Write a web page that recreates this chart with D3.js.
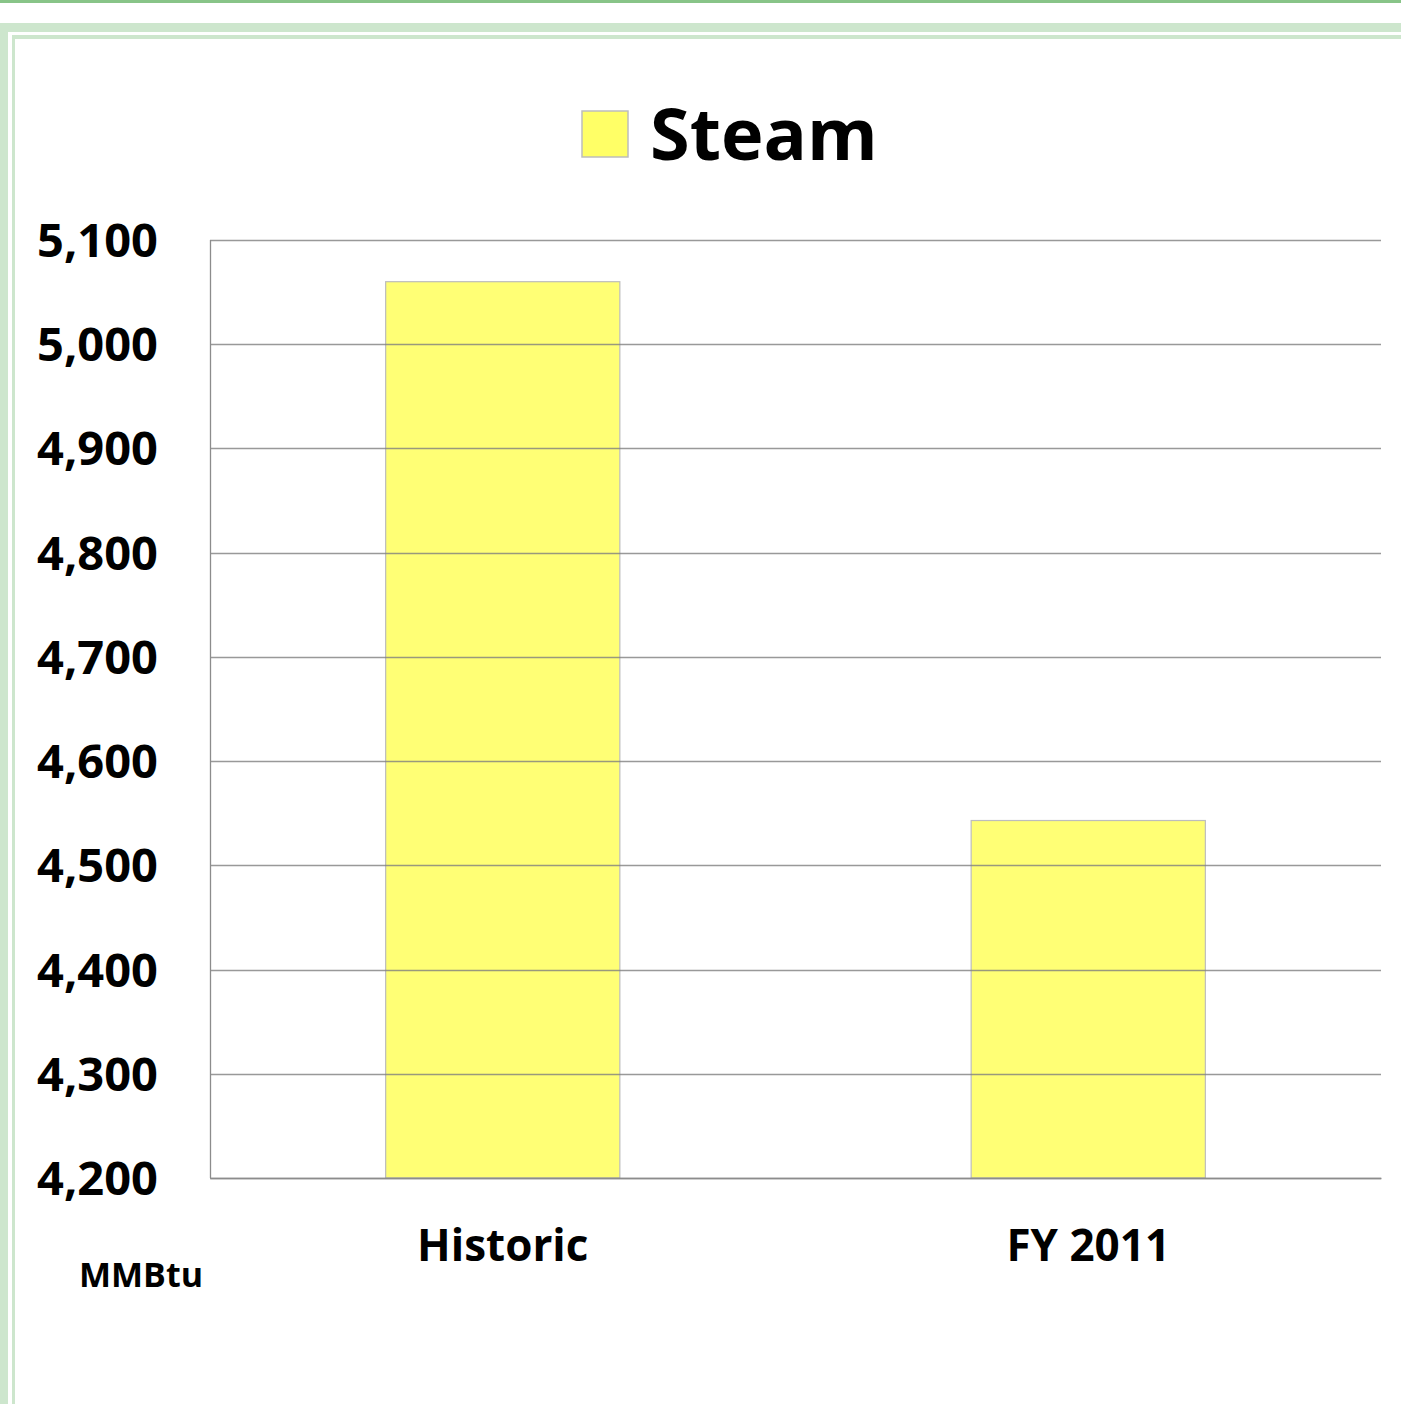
<!DOCTYPE html>
<html>
<head>
<meta charset="utf-8">
<script src="https://cdn.jsdelivr.net/npm/d3@7"></script>
<style>
  body { margin: 0; background: #fff; }
  svg text { font-family: "Open Sans", "Noto Sans", sans-serif; font-weight: bold; fill: #000; }
</style>
</head>
<body>
<div id="chart"></div>
<script>
// Data
let categories = ["Historic", "FY 2011"];
let steam = [5060, 4543];
let yTicks = [4200, 4300, 4400, 4500, 4600, 4700, 4800, 4900, 5000, 5100];
let seriesName = "Steam";
let unitLabel = "MMBtu";

let W = 1401, H = 1404;
let margin = { top: 240, right: 20, bottom: 226, left: 210 };
let width = W - margin.left - margin.right;
let height = H - margin.top - margin.bottom;

let svg = d3.select("#chart")
  .append("svg")
  .attr("width", W)
  .attr("height", H);

// page frame (green bands)
svg.append("rect").attr("x", 0).attr("y", 0).attr("width", W).attr("height", 3).attr("fill", "#88c488");
svg.append("rect").attr("x", 0).attr("y", 23).attr("width", W).attr("height", 9).attr("fill", "#cde6cd");
svg.append("rect").attr("x", 0).attr("y", 23).attr("width", 8).attr("height", H - 23).attr("fill", "#cde6cd");
svg.append("rect").attr("x", 12).attr("y", 35).attr("width", W - 12).attr("height", 4).attr("fill", "#cde6cd");
svg.append("rect").attr("x", 12).attr("y", 35).attr("width", 3).attr("height", H - 35).attr("fill", "#cde6cd");

let g = svg.append("g")
  .attr("transform", "translate(" + margin.left + "," + margin.top + ")");

// Scales
let x = d3.scaleBand()
  .domain(categories)
  .range([0, width])
  .paddingInner(0.6)
  .paddingOuter(0.3);

let y = d3.scaleLinear()
  .domain([4200, 5100])
  .range([height, 0]);

// bars
g.append("g")
  .selectAll("rect")
  .data(steam)
  .join("rect")
    .attr("x", (d, i) => x(categories[i]))
    .attr("y", d => y(d))
    .attr("width", x.bandwidth())
    .attr("height", d => height - y(d))
    .attr("fill", "#ffff66")
    .attr("fill-opacity", 0.9)
    .attr("stroke", "#bdbdbd")
    .attr("stroke-width", 1.2);

// gridlines on top, faint so they show through the bars
g.append("g")
  .attr("class", "grid")
  .selectAll("line")
  .data(yTicks)
  .join("line")
    .attr("x1", 0)
    .attr("x2", width)
    .attr("y1", d => Math.round(y(d)) + 0.5)
    .attr("y2", d => Math.round(y(d)) + 0.5)
    .attr("stroke", "#808080")
    .attr("stroke-opacity", 0.8)
    .attr("stroke-width", 1.4);

// left axis line
g.append("line")
  .attr("x1", 0.5).attr("x2", 0.5)
  .attr("y1", 0).attr("y2", height)
  .attr("stroke", "#8c8c8c")
  .attr("stroke-width", 1.3);

// y axis labels
let yAxis = d3.axisLeft(y)
  .tickValues(yTicks)
  .tickSize(0)
  .tickPadding(52)
  .tickFormat(d3.format(","));

let yAxisEl = g.append("g").call(yAxis);
yAxisEl.select(".domain").remove();
yAxisEl.selectAll("text")
  .attr("font-size", 47)
  .style("font-family", "'Open Sans', sans-serif")
  .attr("dy", "0.35em");

// x axis labels
let xAxis = d3.axisBottom(x).tickSize(0).tickPadding(52);
let xAxisEl = g.append("g")
  .attr("transform", "translate(0," + height + ")")
  .call(xAxis);
xAxisEl.select(".domain").attr("stroke", "#8c8c8c").attr("stroke-width", 1.3);
xAxisEl.selectAll("text")
  .attr("font-size", 44)
  .style("font-family", "'Open Sans', sans-serif");

// unit label
svg.append("text")
  .attr("x", 141)
  .attr("y", 1287)
  .attr("text-anchor", "middle")
  .attr("font-size", 34)
  .text(unitLabel);

// legend
let legend = svg.append("g").attr("transform", "translate(582,111)");
legend.append("rect")
  .attr("width", 46).attr("height", 46)
  .attr("fill", "#ffff66")
  .attr("stroke", "#bdbdbd")
  .attr("stroke-width", 1.5);
legend.append("text")
  .attr("x", 68)
  .attr("y", 49)
  .attr("font-size", 72)
  .text(seriesName);
</script>
</body>
</html>
